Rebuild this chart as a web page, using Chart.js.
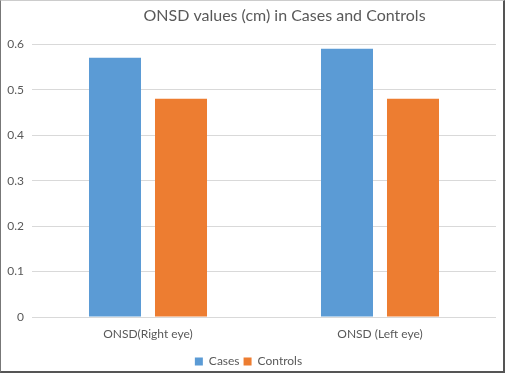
<!DOCTYPE html>
<html>
<head>
<meta charset="utf-8">
<script src="https://cdn.jsdelivr.net/npm/chart.js@4.4.1/dist/chart.umd.min.js"></script>
<style>
    html, body { margin: 0; padding: 0; background: #fff; }
    #wrap {
        width: 505px; height: 373px; box-sizing: border-box;
        border-left: 1px solid #777; border-top: 1px solid #ccc;
        border-right: 2px solid #555; border-bottom: 2px solid #555;
    }
    #chart { display: block; }
</style>
</head>
<body>
<div id="wrap"><canvas id="chart" width="502" height="370"></canvas></div>
<script>
const categories = ['ONSD(Right eye)', 'ONSD (Left eye)'];
const casesValues = [0.57, 0.59];
const controlsValues = [0.48, 0.48];
const seriesNames = ['Cases', 'Controls'];

const textColor = '#595959';

// nudge title right, like the original
const nudgeBlocks = {
    id: 'nudgeBlocks',
    afterLayout(chart) {
        const t = chart.titleBlock;
        if (t) { t.left += 36; t.right += 36; }
    }
};

const ctx = document.getElementById('chart').getContext('2d');
const chart = new Chart(ctx, {
    type: 'bar',
    data: {
        labels: categories,
        datasets: [{
            label: seriesNames[0],
            data: casesValues,
            backgroundColor: '#5B9BD5',
            categoryPercentage: 0.569,
            barPercentage: 0.788
        }, {
            label: seriesNames[1],
            data: controlsValues,
            backgroundColor: '#ED7D31',
            categoryPercentage: 0.569,
            barPercentage: 0.788
        }]
    },
    options: {
        responsive: false,
        animation: false,
        layout: { padding: { left: 0, right: 7, top: 0, bottom: -6.5 } },
        scales: {
            x: {
                grid: { display: false, drawTicks: false },
                border: { display: false },
                ticks: { color: textColor, font: { family: 'Lato', size: 12 }, padding: 10 }
            },
            y: {
                min: 0,
                max: 0.6,
                ticks: { stepSize: 0.1, color: textColor, font: { family: 'Lato', size: 12 }, padding: 8 },
                grid: { color: '#d9d9d9', drawTicks: false },
                border: { display: false },
                afterFit(scale) { scale.width = 31; }
            }
        },
        plugins: {
            title: {
                display: true,
                text: 'ONSD values (cm) in Cases and Controls',
                color: textColor,
                font: { family: 'Lato', size: 16, weight: 'normal' },
                padding: { top: 5, bottom: 19 }
            },
            legend: {
                position: 'bottom',
                labels: {
                    color: textColor,
                    font: { family: 'Lato', size: 12 },
                    boxWidth: 8,
                    boxHeight: 8,
                    padding: 4
                }
            },
            tooltip: { enabled: false }
        }
    },
    plugins: [nudgeBlocks]
});
</script>
</body>
</html>
